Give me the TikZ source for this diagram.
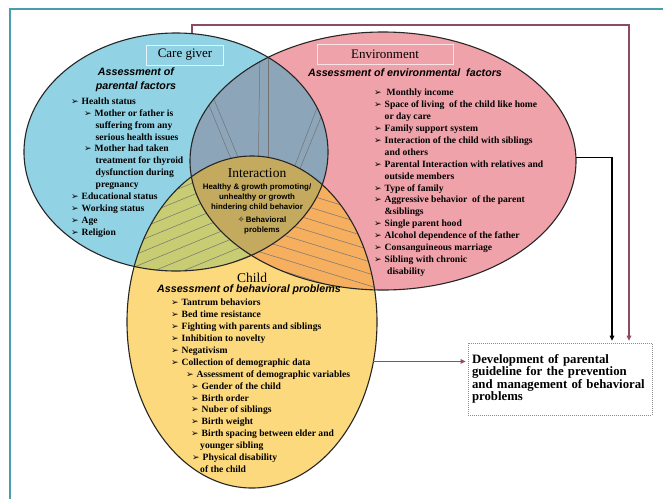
\documentclass[tikz,border=0pt]{standalone}
\usepackage{fontspec}
\setmainfont{Liberation Serif}
\newfontfamily\sansf{Liberation Sans}
\newfontfamily\djf{DejaVu Sans}
\usetikzlibrary{shapes.geometric,arrows.meta}
\definecolor{cBlue}{HTML}{91D2E4}
\definecolor{cPink}{HTML}{F0A2AA}
\definecolor{cYellow}{HTML}{FDD97D}
\definecolor{cSlate}{HTML}{8CA5B9}
\definecolor{cGreen}{HTML}{C8CD73}
\definecolor{cOrange}{HTML}{F5AF5F}
\definecolor{cKhaki}{HTML}{C3AA5F}
\definecolor{cMaroon}{HTML}{8E4B5E}
\definecolor{cFrame}{HTML}{4A9DAA}
\newcommand\ar{\makebox[10.5pt][l]{\djf\fontsize{9}{9}\selectfont ➢}}
\begin{document}
\begin{tikzpicture}[x=1pt,y=-1pt,
  ell/.style={ellipse, inner sep=0pt, outer sep=0pt, draw=black!85, line width=1.1pt},
  hatch/.style={line width=0.5pt, black!55},
  list/.style={anchor=north west, inner sep=0pt, align=left, font=\bfseries\fontsize{9.6}{11.9}\selectfont},
  head/.style={font=\sansf\bfseries\itshape\fontsize{10.7}{14}\selectfont, align=center, inner sep=0pt},
  title/.style={font=\fontsize{13.5}{15}\selectfont, inner sep=0pt},
  tbox/.style={line width=0.8pt, minimum width=77pt, minimum height=20pt, inner sep=0pt, font=\fontsize{13}{15}\selectfont},
  small/.style={font=\sansf\bfseries\fontsize{7.9}{10}\selectfont, align=center, inner sep=0pt},
  conn/.style={line width=1.4pt, -{Triangle[length=5pt,width=4.5pt]}, shorten >=2pt},
  mar/.style={conn, draw=cMaroon},
  blk/.style={conn, draw=black},
  guidebox/.style={draw=black!45, dash pattern=on 1pt off 1pt, line width=0.7pt, text width=176pt, inner sep=4pt, minimum height=72pt, align=left, font=\bfseries\fontsize{12.8}{12.4}\selectfont}
]
\useasboundingbox (0,0) rectangle (663,499);
\fill[white] (0,0) rectangle (663,499);
% ---- fills ----
\fill[cBlue] (176,152) ellipse [x radius=152pt, y radius=119pt];
\fill[cPink] (383,161) ellipse [x radius=193pt, y radius=129pt];
\begin{scope}
  \clip (176,152) ellipse [x radius=152pt, y radius=119pt];
  \fill[cSlate] (383,161) ellipse [x radius=193pt, y radius=129pt];
  \clip (383,161) ellipse [x radius=193pt, y radius=129pt];
  \draw[hatch] (195,71) -- (240,181);
  \draw[hatch] (200,66) -- (248,181);
  \draw[hatch] (260,50) -- (258,181);
  \draw[hatch] (268,50) -- (268,181);
  \draw[hatch] (325,87) -- (289,181);
  \draw[hatch] (328,100) -- (295,181);
\end{scope}
\fill[cYellow] (252,322) ellipse [x radius=125pt, y radius=166pt];
\begin{scope}
  \clip (176,152) ellipse [x radius=152pt, y radius=119pt];
  \fill[cGreen] (252,322) ellipse [x radius=125pt, y radius=166pt];
  \clip (252,322) ellipse [x radius=125pt, y radius=166pt];
  \foreach \i in {0,...,9} \draw[hatch] (110,{205+12*\i}) -- (280,{205+12*\i-70});
\end{scope}
\begin{scope}
  \clip (383,161) ellipse [x radius=193pt, y radius=129pt];
  \fill[cOrange] (252,322) ellipse [x radius=125pt, y radius=166pt];
  \clip (252,322) ellipse [x radius=125pt, y radius=166pt];
  \foreach \i in {0,...,9} \draw[hatch] (260,{180+12*\i}) -- (390,{180+12*\i+40});
\end{scope}
\begin{scope}
  \clip (176,152) ellipse [x radius=152pt, y radius=119pt];
  \clip (383,161) ellipse [x radius=193pt, y radius=129pt];
  \fill[cKhaki] (252,322) ellipse [x radius=125pt, y radius=166pt];
\end{scope}
% ---- outlines ----
\node[ell, minimum width=304pt, minimum height=238pt] (cg) at (176,152) {};
\node[ell, minimum width=386pt, minimum height=258pt] (env) at (383,161) {};
\node[ell, minimum width=250pt, minimum height=332pt] (ch) at (252,322) {};
% ---- frame ----
\draw[cFrame, line width=1.2pt] (663,9) -- (10,9) -- (10,499);
% ---- titles ----
\node[tbox, draw=white!75!cBlue] (cgbox) at (185,55) {Care giver};
\node[tbox, draw=white!70!cPink, minimum width=136pt] (envbox) at (385,54) {Environment};
\node[title] (inttitle) at (257,173) {Interaction};
\node[title] (chtitle) at (252,278) {Child};
% ---- headings ----
\node[head] (cghead) at (136,80) {Assessment of\\parental factors};
\node[head] (envhead) at (405,73) {Assessment of environmental\ \ factors};
\node[head] (chhead) at (249,290) {Assessment of behavioral problems};
% ---- interaction text ----
\node[small] (inttext) at (257,197) {Healthy \& growth promoting/\\unhealthy or growth\\hindering child behavior};
\node[small] (beh) at (262,225) {{\djf\fontsize{8}{8}\selectfont ✧}\,Behavioral\\problems};
% ---- lists ----
\node[list] (cglist) at (71,97.5) {%
\ar Health status\\
\hspace*{13pt}\ar Mother or father is\\
\hspace*{24.5pt}suffering from any\\
\hspace*{24.5pt}serious health issues\\
\hspace*{13pt}\ar Mother had taken\\
\hspace*{24.5pt}treatment for thyroid\\
\hspace*{24.5pt}dysfunction during\\
\hspace*{24.5pt}pregnancy\\
\ar Educational status\\
\ar Working status\\
\ar Age\\
\ar Religion};
\node[list] (envlist) at (374,89) {%
\ar\hspace{2pt}Monthly income\\
\ar Space of living\ \ of the child like home\\
\hspace*{10.5pt}or day care\\
\ar Family support system\\
\ar Interaction of the child with siblings\\
\hspace*{10.5pt}and others\\
\ar Parental Interaction with relatives and\\
\hspace*{10.5pt}outside members\\
\ar Type of family\\
\ar Aggressive behavior\ \ of the parent\\
\hspace*{10.5pt}\&siblings\\
\ar Single parent hood\\
\ar Alcohol dependence of the father\\
\ar Consanguineous marriage\\
\ar Sibling with chronic\\
\hspace*{13pt}disability};
\node[list] (chlist) at (171,299) {%
\ar Tantrum behaviors\\
\ar Bed time resistance\\
\ar Fighting with parents and siblings\\
\ar Inhibition to novelty\\
\ar Negativism\\
\ar Collection of demographic data\\
\hspace*{15pt}\ar Assessment of demographic variables\\
\hspace*{20pt}\ar Gender of the child\\
\hspace*{20pt}\ar Birth order\\
\hspace*{20pt}\ar Nuber of siblings\\
\hspace*{20pt}\ar Birth weight\\
\hspace*{20pt}\ar Birth spacing between elder and\\
\hspace*{29pt}younger sibling\\
\hspace*{21pt}\ar Physical disability\\
\hspace*{29pt}of the child};
% ---- guideline box ----
\node[guidebox] (guide) at (560,379) {Development of parental\\guideline for the prevention\\and management of behavioral\\problems};
% ---- connectors ----
\coordinate (mt) at (629,25);
\draw[mar] ([xshift=16pt]cg.north) |- (mt) -- (mt |- guide.north);
\draw[blk] (env.1) -| ([xshift=52pt]guide.north);
\draw[mar] (ch.-18) -- (ch.-18 -| guide.west);
\end{tikzpicture}
\end{document}
